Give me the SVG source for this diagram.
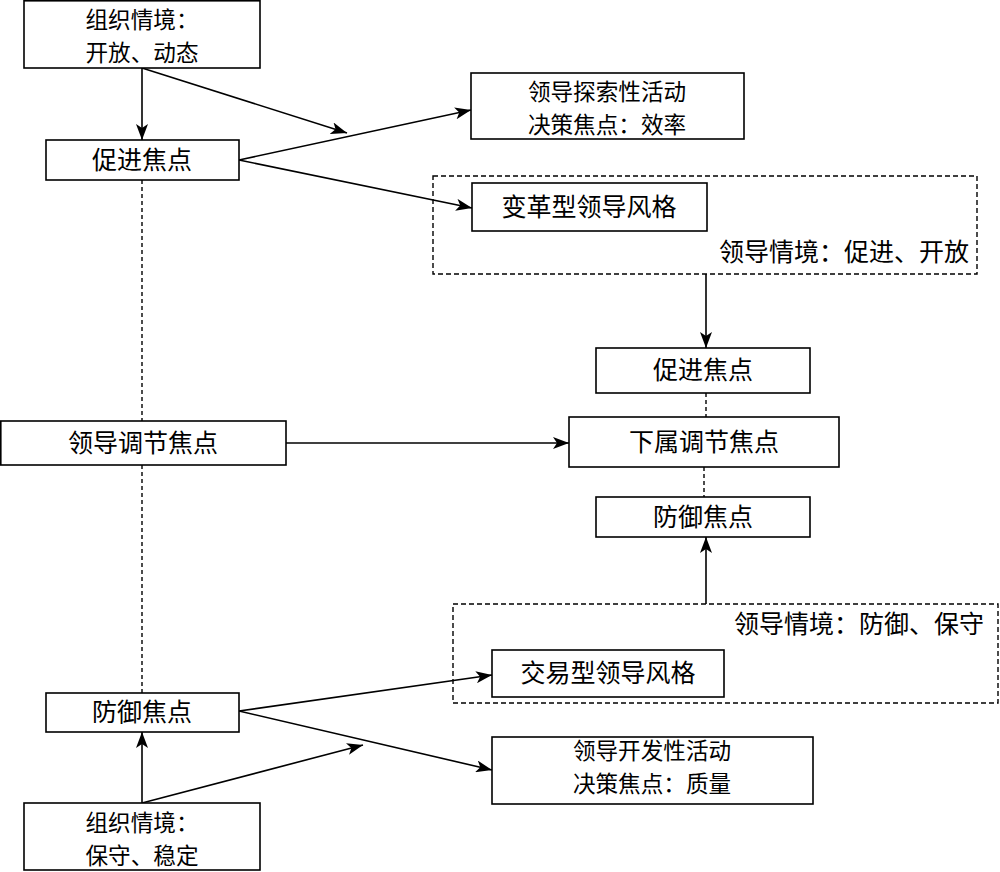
<svg xmlns="http://www.w3.org/2000/svg" width="1000" height="872" viewBox="0 0 1000 872">
<style>
.box{fill:#fff;stroke:#000;stroke-width:1.6}
.ctx{fill:none;stroke:#000;stroke-width:1.4;stroke-dasharray:5 3}
.t{font-family:"Noto Sans CJK SC","Noto Sans CJK JP",sans-serif;font-size:25px;fill:#000;text-anchor:middle}
.t2{font-size:22.6px}
.te{text-anchor:end}
.ln{stroke:#000;stroke-width:1.6;fill:none}
.arr{marker-end:url(#ah)}
.dot{stroke:#000;stroke-width:1.4;stroke-dasharray:4 3;fill:none}
</style>
<defs>
<marker id="ah" markerUnits="userSpaceOnUse" markerWidth="18" markerHeight="12" refX="16" refY="6" orient="auto">
<path d="M0,0 L16,6 L0,12 L4,6 z" fill="#000"/>
</marker>
</defs>
<rect width="1000" height="872" fill="#fff"/>
<g id="connectors">
<line class="ln arr" x1="142" y1="68" x2="142" y2="140"/>
<line class="ln arr" x1="142" y1="68" x2="347" y2="133"/>
<line class="ln arr" x1="239" y1="160" x2="471" y2="110"/>
<line class="ln arr" x1="239" y1="160" x2="472" y2="208"/>
<line class="ln arr" x1="706" y1="274" x2="706" y2="348"/>
<line class="dot" x1="706" y1="393" x2="706" y2="417"/>
<line class="dot" x1="704" y1="467" x2="704" y2="497"/>
<line class="ln arr" x1="286" y1="443" x2="569" y2="443"/>
<line class="ln arr" x1="706" y1="604" x2="706" y2="537"/>
<line class="ln arr" x1="239" y1="711" x2="492" y2="675"/>
<line class="ln arr" x1="239" y1="711" x2="492" y2="770"/>
<line class="ln arr" x1="142" y1="803" x2="142" y2="732"/>
<line class="ln arr" x1="142" y1="803" x2="363" y2="745"/>
<line class="dot" x1="142" y1="180" x2="142" y2="421"/>
<line class="dot" x1="142" y1="465" x2="142" y2="693"/>
</g>
<g id="ctx1">
<rect class="ctx" x="433" y="176" width="544" height="98"/>
<text class="t te" x="969" y="261">领导情境：促进、开放</text>
</g>
<g id="ctx2">
<rect class="ctx" x="453" y="604" width="545" height="99"/>
<text class="t te" x="984" y="633">领导情境：防御、保守</text>
</g>
<g id="org-open">
<rect class="box" x="24" y="0.8" width="236" height="67.2"/>
<text class="t t2" x="142" y="28">组织情境：</text>
<text class="t t2" x="142" y="61">开放、动态</text>
</g>
<g id="promo-left">
<rect class="box" x="46" y="140" width="193" height="40"/>
<text class="t" x="142" y="169">促进焦点</text>
</g>
<g id="explore">
<rect class="box" x="471" y="73" width="273" height="66"/>
<text class="t t2" x="607" y="100">领导探索性活动</text>
<text class="t t2" x="607" y="133">决策焦点：效率</text>
</g>
<g id="transform">
<rect class="box" x="472" y="183" width="235" height="48"/>
<text class="t" x="589" y="216">变革型领导风格</text>
</g>
<g id="promo-right">
<rect class="box" x="596" y="348" width="214" height="45"/>
<text class="t" x="703" y="379">促进焦点</text>
</g>
<g id="sub-focus">
<rect class="box" x="569" y="417" width="270" height="50"/>
<text class="t" x="704" y="451">下属调节焦点</text>
</g>
<g id="prev-right">
<rect class="box" x="596" y="497" width="214" height="40"/>
<text class="t" x="703" y="526">防御焦点</text>
</g>
<g id="leader-focus">
<rect class="box" x="0.8" y="421" width="285.2" height="44"/>
<text class="t" x="143" y="452">领导调节焦点</text>
</g>
<g id="transact">
<rect class="box" x="492" y="650" width="232" height="47"/>
<text class="t" x="608" y="682">交易型领导风格</text>
</g>
<g id="exploit">
<rect class="box" x="492" y="737" width="321" height="67"/>
<text class="t t2" x="652" y="759">领导开发性活动</text>
<text class="t t2" x="652" y="792">决策焦点：质量</text>
</g>
<g id="prev-left">
<rect class="box" x="46" y="693" width="193" height="39"/>
<text class="t" x="142" y="721">防御焦点</text>
</g>
<g id="org-stable">
<rect class="box" x="24" y="803" width="236" height="67"/>
<text class="t t2" x="142" y="831">组织情境：</text>
<text class="t t2" x="142" y="864">保守、稳定</text>
</g>
</svg>
